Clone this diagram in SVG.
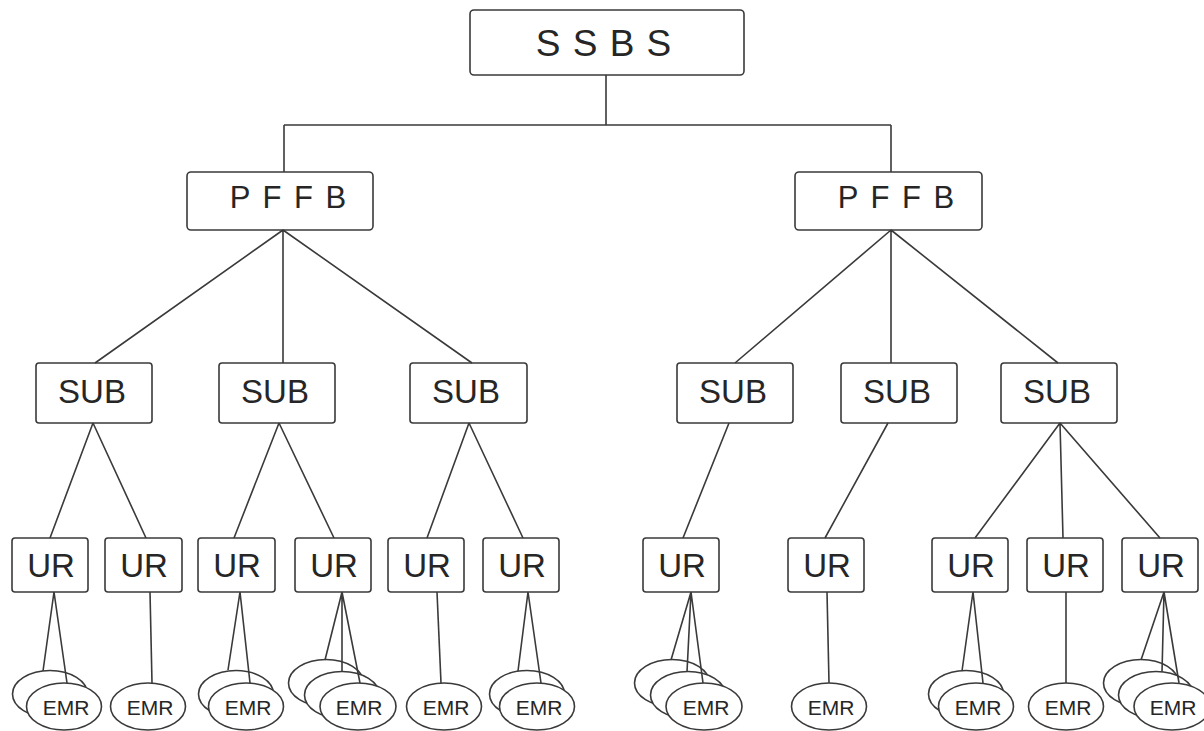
<svg xmlns="http://www.w3.org/2000/svg" width="1204" height="731" viewBox="0 0 1204 731">
<style>
.box{fill:#fff;stroke:#3a3a3a;stroke-width:1.6}
.el{fill:#fff;stroke:#3a3a3a;stroke-width:1.6}
.ln{stroke:#3a3a3a;stroke-width:1.6;fill:none}
text{font-family:"Liberation Sans",Arial,sans-serif;fill:#262626;text-anchor:middle}
.t1{font-size:37px;letter-spacing:1px}
.t2{font-size:31px;letter-spacing:2px}
.t3{font-size:33px}
.t4{font-size:21px}
</style>
<rect width="1204" height="731" fill="#fff"/>
<g id="nodes">
<g id="ssbs"><rect class="box" x="470" y="10" width="274" height="65" rx="4"/><text class="t1" x="604" y="56">S S B S</text></g>
<g id="pffb1"><rect class="box" x="187" y="172" width="186" height="58" rx="4"/><text class="t2" x="289" y="208">P F F B</text></g>
<g id="pffb2"><rect class="box" x="795" y="172" width="187" height="58" rx="4"/><text class="t2" x="897" y="208">P F F B</text></g>
<g id="sub1"><rect class="box" x="36" y="363" width="116" height="60" rx="3"/><text class="t3" x="92" y="403">SUB</text></g>
<g id="sub2"><rect class="box" x="219" y="363" width="116" height="60" rx="3"/><text class="t3" x="275" y="403">SUB</text></g>
<g id="sub3"><rect class="box" x="410" y="363" width="117" height="60" rx="3"/><text class="t3" x="466" y="403">SUB</text></g>
<g id="sub4"><rect class="box" x="677" y="363" width="116" height="60" rx="3"/><text class="t3" x="733" y="403">SUB</text></g>
<g id="sub5"><rect class="box" x="841" y="363" width="116" height="60" rx="3"/><text class="t3" x="897" y="403">SUB</text></g>
<g id="sub6"><rect class="box" x="1001" y="363" width="116" height="60" rx="3"/><text class="t3" x="1057" y="403">SUB</text></g>
<g id="ur1"><rect class="box" x="12" y="538" width="76" height="54" rx="3"/><text class="t3" x="51" y="577">UR</text></g>
<g id="ur2"><rect class="box" x="105" y="538" width="77" height="54" rx="3"/><text class="t3" x="144" y="577">UR</text></g>
<g id="ur3"><rect class="box" x="198" y="538" width="77" height="54" rx="3"/><text class="t3" x="237" y="577">UR</text></g>
<g id="ur4"><rect class="box" x="295" y="538" width="76" height="54" rx="3"/><text class="t3" x="334" y="577">UR</text></g>
<g id="ur5"><rect class="box" x="388" y="538" width="76" height="54" rx="3"/><text class="t3" x="427" y="577">UR</text></g>
<g id="ur6"><rect class="box" x="483" y="538" width="76" height="54" rx="3"/><text class="t3" x="522" y="577">UR</text></g>
<g id="ur7"><rect class="box" x="643" y="538" width="76" height="54" rx="3"/><text class="t3" x="682" y="577">UR</text></g>
<g id="ur8"><rect class="box" x="788" y="538" width="76" height="54" rx="3"/><text class="t3" x="827" y="577">UR</text></g>
<g id="ur9"><rect class="box" x="932" y="538" width="76" height="54" rx="3"/><text class="t3" x="971" y="577">UR</text></g>
<g id="ur10"><rect class="box" x="1027" y="538" width="76" height="54" rx="3"/><text class="t3" x="1066" y="577">UR</text></g>
<g id="ur11"><rect class="box" x="1122" y="538" width="76" height="54" rx="3"/><text class="t3" x="1161" y="577">UR</text></g>
<g id="emr1"><ellipse class="el" cx="50" cy="694" rx="37.5" ry="23.5"/><ellipse class="el" cx="64" cy="706.5" rx="37.5" ry="23.5"/><text class="t4" x="66" y="715">EMR</text></g>
<g id="emr2"><ellipse class="el" cx="148" cy="706.5" rx="37.5" ry="23.5"/><text class="t4" x="150" y="715">EMR</text></g>
<g id="emr3"><ellipse class="el" cx="236" cy="694" rx="37.5" ry="23.5"/><ellipse class="el" cx="246" cy="706.5" rx="37.5" ry="23.5"/><text class="t4" x="248" y="715">EMR</text></g>
<g id="emr4"><ellipse class="el" cx="326" cy="683" rx="37.5" ry="23.5"/><ellipse class="el" cx="342" cy="695" rx="37.5" ry="23.5"/><ellipse class="el" cx="358" cy="706.5" rx="38" ry="23.5"/><text class="t4" x="359" y="715">EMR</text></g>
<g id="emr5"><ellipse class="el" cx="444" cy="706.5" rx="37.5" ry="23.5"/><text class="t4" x="446" y="715">EMR</text></g>
<g id="emr6"><ellipse class="el" cx="527" cy="694" rx="37.5" ry="23.5"/><ellipse class="el" cx="537" cy="706.5" rx="37.5" ry="23.5"/><text class="t4" x="539" y="715">EMR</text></g>
<g id="emr7"><ellipse class="el" cx="672" cy="683" rx="37.5" ry="23.5"/><ellipse class="el" cx="688" cy="695" rx="37.5" ry="23.5"/><ellipse class="el" cx="704" cy="706.5" rx="38" ry="23.5"/><text class="t4" x="706" y="715">EMR</text></g>
<g id="emr8"><ellipse class="el" cx="829" cy="706.5" rx="37.5" ry="23.5"/><text class="t4" x="831" y="715">EMR</text></g>
<g id="emr9"><ellipse class="el" cx="966" cy="694" rx="37.5" ry="23.5"/><ellipse class="el" cx="976" cy="706.5" rx="37.5" ry="23.5"/><text class="t4" x="978" y="715">EMR</text></g>
<g id="emr10"><ellipse class="el" cx="1066" cy="706.5" rx="37.5" ry="23.5"/><text class="t4" x="1068" y="715">EMR</text></g>
<g id="emr11"><ellipse class="el" cx="1141" cy="683" rx="37.5" ry="23.5"/><ellipse class="el" cx="1156" cy="695" rx="37.5" ry="23.5"/><ellipse class="el" cx="1172" cy="706.5" rx="38" ry="23.5"/><text class="t4" x="1173" y="715">EMR</text></g>
</g>
<g id="connectors" class="ln">
<path d="M606 75V125M284 125H891M284 125V172M891 125V172"/>
<path d="M283 230L95 363M283 230V363M283 230L472 363"/>
<path d="M891 230L735 363M891 230V363M891 230L1058 363"/>
<path d="M93 423L50 538M93 423L146 538"/>
<path d="M279 423L234 538M279 423L334 538"/>
<path d="M469 423L427 538M469 423L523 538"/>
<path d="M729 423L683 538M888 423L825 538"/>
<path d="M1060 423L975 538M1060 423L1063 538M1060 423L1160 538"/>
<path d="M54 592L43 671M54 592L67 683"/>
<path d="M150 592L152 683"/>
<path d="M240 592L228 670M240 592L250 683"/>
<path d="M342 592L325 660M342 592V672M342 592L360 683"/>
<path d="M437 592L441 683"/>
<path d="M528 592L518 671M528 592L541 683"/>
<path d="M691 592L671 660M691 592L687 672M691 592L703 683"/>
<path d="M827 592L829 683"/>
<path d="M973 592L962 671M973 592L983 683"/>
<path d="M1066 592V683"/>
<path d="M1164 592L1141 660M1164 592L1162 672M1164 592L1179 683"/>
</g>
</svg>
